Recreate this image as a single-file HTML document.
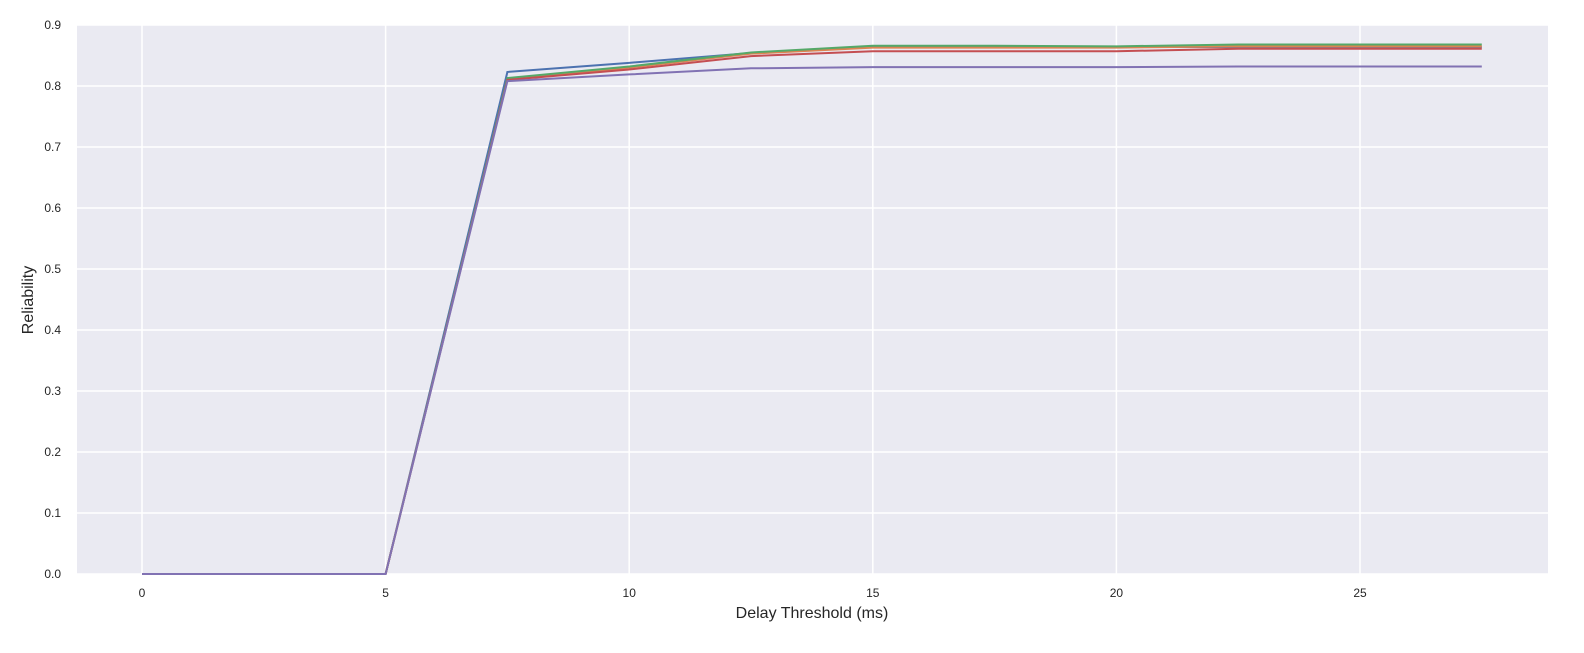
<!DOCTYPE html>
<html><head><meta charset="utf-8"><style>
body{margin:0;background:#fff;font-family:"Liberation Sans",Arial,sans-serif}
svg text{font-family:"Liberation Sans",Arial,sans-serif;fill:#262626}
</style></head><body>
<svg id="chart" width="1584" height="648" xmlns="http://www.w3.org/2000/svg">
<rect x="77" y="25" width="1471" height="549" fill="#eaeaf2"/>
<g id="grid"></g><g id="lines"></g><g id="ticks"></g>
<text x="812" y="618" font-size="16" text-anchor="middle">Delay Threshold (ms)</text>
<text transform="translate(33,300) rotate(-90)" font-size="16" text-anchor="middle">Reliability</text>
</svg>
<script>
const xValues=[0,2.5,5,7.5,10,12.5,15,17.5,20,22.5,25,27.5];
const seriesBlue=[0,0,0,0.823,0.838,0.854,0.864,0.864,0.864,0.864,0.864,0.864];
const seriesOrange=[0,0,0,0.812,0.830,0.853,0.863,0.863,0.863,0.865,0.865,0.865];
const seriesGreen=[0,0,0,0.813,0.832,0.855,0.866,0.866,0.865,0.868,0.868,0.868];
const seriesRed=[0,0,0,0.810,0.827,0.849,0.857,0.857,0.857,0.861,0.861,0.861];
const seriesPurple=[0,0,0,0.808,0.819,0.829,0.831,0.831,0.831,0.832,0.832,0.832];
const xTicks=[0,5,10,15,20,25];
const yTicks=[0,0.1,0.2,0.3,0.4,0.5,0.6,0.7,0.8,0.9];
const colors=['#4c72b0','#dd8452','#55a868','#c44e52','#8172b3'];
const names=['blue','orange','green','red','purple'];
const X=v=>142+v*48.72, Y=v=>574-v*610;
const ns='http://www.w3.org/2000/svg';
const grid=document.getElementById('grid'),ticks=document.getElementById('ticks'),lines=document.getElementById('lines');
function mk(tag,attrs,parent){const e=document.createElementNS(ns,tag);for(const k in attrs)e.setAttribute(k,attrs[k]);parent.appendChild(e);return e;}
xTicks.forEach(t=>{
 const l=mk('line',{x1:X(t),x2:X(t),y1:25,y2:574,stroke:'#fff','stroke-width':1.5},grid);
 
 
 const tx=mk('text',{x:X(t),y:597,'font-size':12,'text-anchor':'middle'},ticks);tx.textContent=t;
 
 
});
yTicks.forEach(t=>{
 const l=mk('line',{x1:77,x2:1548,y1:Y(t),y2:Y(t),stroke:'#fff','stroke-width':1.5},grid);
 
 
 const tx=mk('text',{x:61,y:Y(t)+4,'font-size':12,'text-anchor':'end'},ticks);tx.textContent=t.toFixed(1);
 
 
});
[seriesBlue,seriesOrange,seriesGreen,seriesRed,seriesPurple].forEach((s,i)=>{
 const p=mk('polyline',{points:s.map((v,j)=>X(xValues[j])+','+Y(v)).join(' '),fill:'none',stroke:colors[i],'stroke-width':2},lines);
 
 
});
</script>
</body></html>
